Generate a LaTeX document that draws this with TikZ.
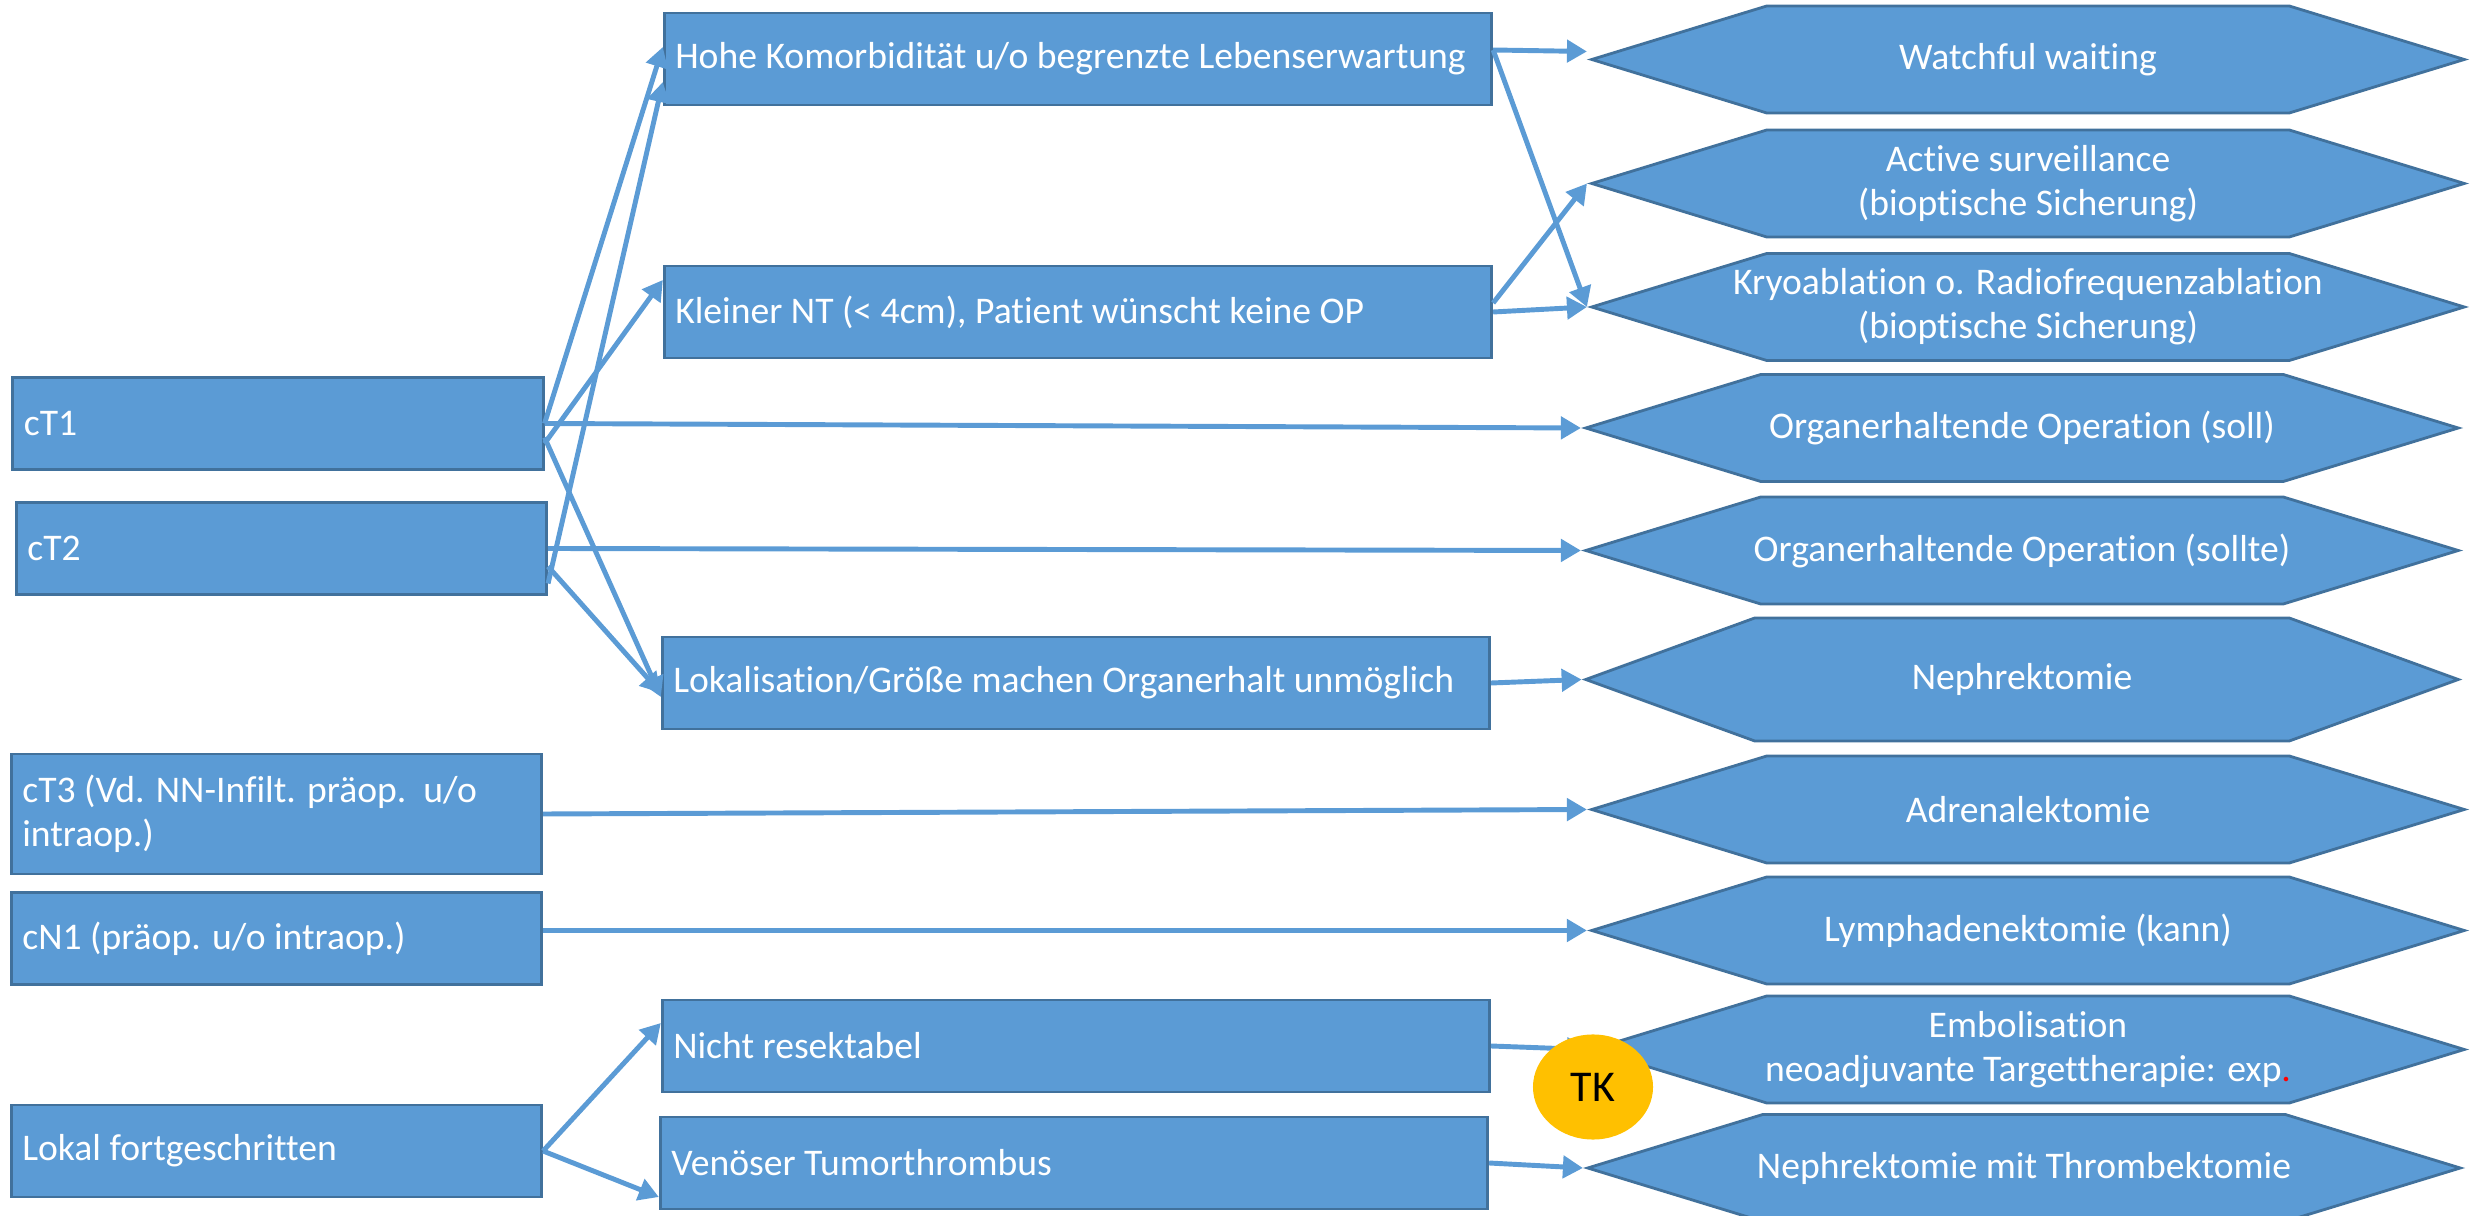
\documentclass[tikz,border=0pt]{standalone}
\usepackage{fontspec}
\setmainfont{Carlito}[Ligatures=NoCommon]
\usetikzlibrary{arrows.meta,shapes.symbols,shapes.geometric}
\definecolor{boxblue}{HTML}{5B9BD5}
\definecolor{boxedge}{HTML}{41719C}
\definecolor{tkyellow}{HTML}{FFC000}
\tikzset{
  ->/.style={draw=boxblue,line width=1.4pt,-{Triangle[length=0.2cm,width=0.22cm]}},
  box/.style={rectangle,fill=boxblue,draw=boxedge,line width=0.8pt,inner xsep=0.11cm,align=flush left,minimum height=0.92cm},
  leftbox/.style={box,text width=5.08cm},
  midbox/.style={box,text width=8.05cm},
  hexa/.style={shape=signal,signal to=east and west,signal pointer angle=34,fill=boxblue,draw=boxedge,line width=0.8pt,inner xsep=-0.45cm,align=center,minimum width=8.72cm,minimum height=1.07cm}
}
\tikzstyle{every node}=[color=white,font=\fontsize{10.7}{12.5}\selectfont]

\begin{document}
\begin{tikzpicture}[x=0.01cm,y=-0.01cm]
    \useasboundingbox (0,0) rectangle (2478,1216);
    % stages
    \node[leftbox] (ct1) at (278,423.5) {cT1};
    \node[leftbox] (ct2) at (281.5,548.5) {cT2};
    \node[leftbox,minimum height=1.2cm] (ct3) at (276.5,814) {cT3 (Vd. NN-Infilt. präop.\ \ u/o\\intraop.)};
    \node[leftbox] (cn1) at (276.5,938.5) {cN1 (präop. u/o intraop.)};
    \node[leftbox] (lokal) at (276.5,1151) {Lokal fortgeschritten};
    % conditions
    \node[midbox] (hohe) at (1078,59) {Hohe Komorbidität u/o begrenzte Lebenserwartung};
    \node[midbox] (klein) at (1078,312) {Kleiner NT (< 4cm), Patient wünscht keine OP};
    \node[midbox] (lokgr) at (1076,683) {Lokalisation/Größe machen Organerhalt unmöglich};
    \node[midbox] (nicht) at (1076,1046) {Nicht resektabel};
    \node[midbox] (venoes) at (1074,1163) {Venöser Tumorthrombus};
    % therapies
    \node[hexa] (watch) at (2028,59.5) {Watchful waiting};
    \node[hexa] (active) at (2028,183.5) {Active surveillance\\(bioptische Sicherung)};
    \node[hexa] (kryo) at (2028,307) {Kryoablation o. Radiofrequenzablation\\(bioptische Sicherung)};
    \node[hexa] (soll) at (2022,428) {Organerhaltende Operation (soll)};
    \node[hexa] (sollte) at (2022,550.5) {Organerhaltende Operation (sollte)};
    \node[hexa,signal pointer angle=40,minimum height=1.23cm] (nephr) at (2022,679.5) {Nephrektomie};
    \node[hexa] (adrenal) at (2028,809.5) {Adrenalektomie};
    \node[hexa] (lymph) at (2028,930.5) {Lymphadenektomie (kann)};
    \node[hexa] (embol) at (2028,1049.5) {Embolisation\\neoadjuvante Targettherapie: exp\textcolor{red}{.}};
    \node[hexa] (thromb) at (2024,1168) {Nephrektomie mit Thrombektomie};
    % arrows
    \draw [->] (ct1.east) -- ([yshift=0.12cm]hohe.west);
    \draw [->] ([yshift=-0.35cm]ct2.east) -- ([yshift=-0.23cm]hohe.west);
    \draw [->] ([yshift=-0.2cm]ct1.east) -- ([yshift=0.32cm]klein.west);
    \draw [->] (ct1.east) -- (soll.west);
    \draw [->] (ct2.east) -- (sollte.west);
    \draw [->] ([yshift=-0.14cm]ct1.east) -- ([yshift=-0.14cm]lokgr.west);
    \draw [->] ([yshift=-0.18cm]ct2.east) -- ([yshift=-0.1cm]lokgr.west);
    \draw [->] ([yshift=0.09cm]hohe.east) -- ([yshift=0.08cm]watch.west);
    \draw [->] ([yshift=0.09cm]hohe.east) -- (kryo.west);
    \draw [->] ([yshift=0.09cm]klein.east) -- (active.west);
    \draw [->] (klein.east) -- (kryo.west);
    \draw [->] (lokgr.east) -- (nephr.west);
    \draw [->] (ct3.east) -- (adrenal.west);
    \draw [->] ([yshift=0.08cm]cn1.east) -- (lymph.west);
    \draw [->] (lokal.east) -- ([yshift=0.23cm]nicht.west);
    \draw [->] (lokal.east) -- ([yshift=-0.34cm]venoes.west);
    \draw [->] (nicht.east) -- (embol.west);
    \draw [->] (venoes.east) -- (thromb.west);
    \node[ellipse,fill=tkyellow,text=black,inner sep=0pt,minimum width=1.2cm,minimum height=1.05cm,font=\fontsize{12.5}{15}\selectfont] (tk) at (1593,1087) {TK};
\end{tikzpicture}
\end{document}
